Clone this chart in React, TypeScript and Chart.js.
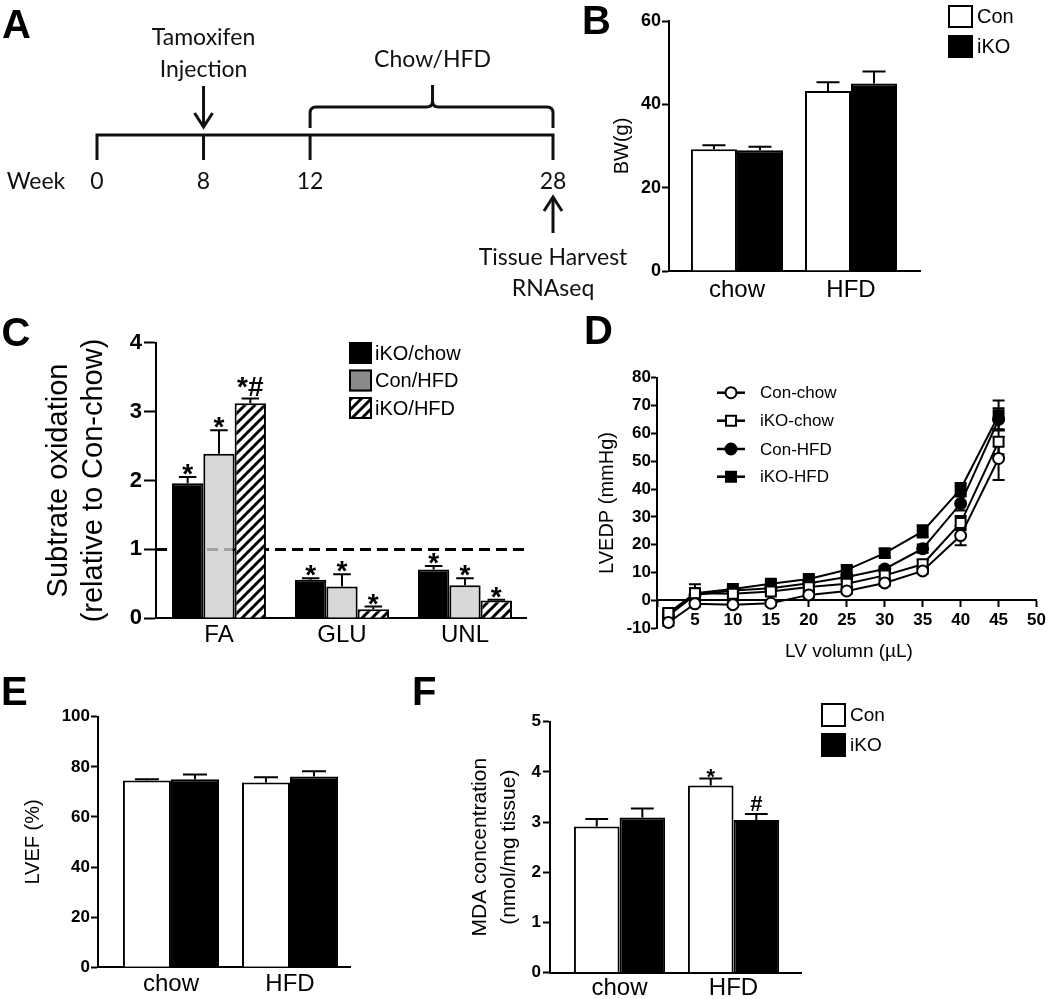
import React, { useEffect, useRef } from 'react';
import { Chart, registerables } from 'chart.js';

Chart.register(...registerables);

const SANS = '"Liberation Sans", Arial, Helvetica, sans-serif';
const HUMAN = 'Lato, "Open Sans", sans-serif';

// ---------------- Panel A (schematic timeline) ----------------
const timelineWeeks = ['0', '8', '12', '28'];
const timelineSlots = [0, 1, 2, 4.28]; // schematic spacing, not to scale

// ---------------- Panel B : body weight ----------------
const bwGroups = ['chow', 'HFD'];
const bwCon = [29.2, 43.2];
const bwConErr = [1.0, 2.1];
const bwIKO = [29.0, 45.0];
const bwIKOErr = [0.8, 2.9];

// ---------------- Panel C : substrate oxidation ----------------
const oxGroups = ['FA', 'GLU', 'UNL'];
const oxIKOChow = [1.96, 0.56, 0.71];
const oxIKOChowErr = [0.09, 0.02, 0.05];
const oxIKOChowSig = ['*', '*', '*'];
const oxConHFD = [2.39, 0.46, 0.48];
const oxConHFDErr = [0.34, 0.18, 0.1];
const oxConHFDSig = ['*', '*', '*'];
const oxIKOHFD = [3.12, 0.13, 0.26];
const oxIKOHFDErr = [0.07, 0.04, 0.01];
const oxIKOHFDSig = ['*#', '*', '*'];

// ---------------- Panel D : LVEDP vs LV volume ----------------
const lvVolume = [1.5, 5, 10, 15, 20, 25, 30, 35, 40, 45];
const pConChow = [-7.9, -1.2, -1.5, -1.0, 2.0, 3.4, 6.3, 10.6, 23.3, 51.0];
const pConChowErr = [1.2, 1.0, 0.8, 0.8, 1.0, 1.0, 1.0, 1.0, 3.5, 7.7];
const pIKOChow = [-4.5, 2.6, 2.4, 3.2, 4.8, 6.0, 9.0, 13.0, 27.8, 57.0];
const pIKOChowErr = [1.5, 3.2, 1.0, 1.0, 1.0, 1.0, 1.2, 1.5, 2.5, 4.5];
const pConHFD = [-5.5, 2.0, 3.6, 4.4, 6.2, 8.4, 11.3, 18.6, 34.8, 65.0];
const pConHFDErr = [1.0, 1.0, 1.0, 1.0, 1.0, 1.0, 1.0, 1.5, 2.5, 4.0];
const pIKOHFD = [-5.1, 2.6, 4.1, 6.0, 7.7, 11.0, 17.0, 24.8, 40.0, 66.5];
const pIKOHFDErr = [1.0, 1.0, 1.0, 1.2, 1.2, 1.5, 1.5, 2.2, 2.2, 5.3];

// ---------------- Panel E : LVEF ----------------
const efGroups = ['chow', 'HFD'];
const efCon = [74.5, 73.7];
const efConErr = [0.5, 2.1];
const efIKO = [75.0, 76.1];
const efIKOErr = [1.9, 2.1];

// ---------------- Panel F : MDA ----------------
const mdaGroups = ['chow', 'HFD'];
const mdaCon = [2.91, 3.73];
const mdaConErr = [0.15, 0.14];
const mdaConSig = ['', '*'];
const mdaIKO = [3.09, 3.04];
const mdaIKOErr = [0.18, 0.12];
const mdaIKOSig = ['', '#'];

type Rect = [number, number, number, number];
type Area = [number, number, number, number];

function hatchPattern(): CanvasPattern | string {
  const s = 10;
  const c = document.createElement('canvas');
  c.width = s;
  c.height = s;
  const g = c.getContext('2d');
  if (!g) return '#fff';
  g.fillStyle = '#fff';
  g.fillRect(0, 0, s, s);
  g.strokeStyle = '#000';
  g.lineWidth = 3;
  g.beginPath();
  g.moveTo(0, s);
  g.lineTo(s, 0);
  g.moveTo(-s / 2, s / 2);
  g.lineTo(s / 2, -s / 2);
  g.moveTo(s / 2, s * 1.5);
  g.lineTo(s * 1.5, s / 2);
  g.stroke();
  return g.createPattern(c, 'repeat') || '#fff';
}

interface BarSeries {
  label: string;
  values: number[];
  errors: number[];
  fill: any;
  sig?: string[];
}

interface BarSpec {
  rect: Rect;
  area: Area;
  yW: number;
  xH: number;
  groups: string[];
  xMin: number;
  xMax: number;
  catPct: number;
  series: BarSeries[];
  yMin: number;
  yMax: number;
  yStep: number;
  tickFont: number;
  tickLen: number;
  tickPad: number;
  xFont: number;
  xPad: number;
  title: string | string[];
  titleFont: number;
  titleLH: number;
  titlePad: number;
  sigFont: number;
  sigLift: number;
  capRatio: number;
  extra?: any[];
}

function barErrorPlugin(s: BarSpec) {
  return {
    id: 'barErr',
    afterDatasetsDraw(chart: any) {
      const ctx = chart.ctx;
      const ys = chart.scales.y;
      ctx.save();
      ctx.strokeStyle = '#000';
      ctx.lineWidth = 2;
      s.series.forEach((se, di) => {
        const meta = chart.getDatasetMeta(di);
        meta.data.forEach((el: any, i: number) => {
          const top = ys.getPixelForValue(se.values[i] + se.errors[i]);
          const cx = el.x;
          const half = el.width * s.capRatio;
          ctx.beginPath();
          ctx.moveTo(cx, el.y);
          ctx.lineTo(cx, top);
          ctx.moveTo(cx - half, top);
          ctx.lineTo(cx + half, top);
          ctx.stroke();
          const t = se.sig ? se.sig[i] : '';
          if (t) {
            ctx.fillStyle = '#000';
            ctx.font = `bold ${s.sigFont}px ${SANS}`;
            ctx.textAlign = 'center';
            ctx.textBaseline = 'alphabetic';
            const base = t === '*' ? top - s.sigLift + 0.43 * s.sigFont : top - 3;
            ctx.fillText(t, cx, base);
          }
        });
      });
      ctx.restore();
    },
  };
}

function boxLegendPlugin(
  rect: Rect,
  items: { label: string; fill: any; x: number; y: number; w: number; h: number; tx: number }[],
  fontSize: number
) {
  return {
    id: 'boxLegend',
    afterDraw(chart: any) {
      const ctx = chart.ctx;
      ctx.save();
      ctx.translate(-rect[0], -rect[1]);
      items.forEach((it) => {
        ctx.fillStyle = it.fill;
        ctx.fillRect(it.x, it.y, it.w, it.h);
        ctx.strokeStyle = '#000';
        ctx.lineWidth = 2;
        ctx.strokeRect(it.x + 1, it.y + 1, it.w - 2, it.h - 2);
        ctx.fillStyle = '#000';
        ctx.font = `${fontSize}px ${SANS}`;
        ctx.textAlign = 'left';
        ctx.textBaseline = 'middle';
        ctx.fillText(it.label, it.tx, it.y + it.h / 2 + 1);
      });
      ctx.restore();
    },
  };
}

function buildBar(canvas: HTMLCanvasElement, s: BarSpec) {
  const padding = {
    left: s.area[0] - s.rect[0] - s.yW,
    top: s.area[1] - s.rect[1],
    right: s.rect[0] + s.rect[2] - s.area[2],
    bottom: s.rect[1] + s.rect[3] - s.area[3] - s.xH,
  };
  return new Chart(canvas, {
    type: 'bar',
    data: {
      datasets: s.series.map((se) => ({
        label: se.label,
        data: se.values.map((v, i) => ({ x: i, y: v })),
        backgroundColor: se.fill,
        borderColor: '#000',
        borderWidth: 2,
        categoryPercentage: s.catPct,
        barPercentage: 1,
      })),
    },
    options: {
      responsive: false,
      animation: false,
      events: [],
      layout: { padding },
      plugins: { legend: { display: false }, tooltip: { enabled: false } },
      scales: {
        x: {
          type: 'linear',
          min: s.xMin,
          max: s.xMax,
          offset: false,
          afterBuildTicks: (sc: any) => {
            sc.ticks = s.groups.map((_, i) => ({ value: i }));
          },
          afterFit: (sc: any) => {
            sc.height = s.xH;
          },
          ticks: {
            autoSkip: false,
            maxRotation: 0,
            color: '#000',
            padding: s.xPad,
            font: { family: SANS, size: s.xFont, lineHeight: 1.2 },
            callback: (v: any) => s.groups[Math.round(Number(v))] ?? '',
          },
          grid: { display: false, drawTicks: false, offset: false },
          border: { display: true, color: '#000', width: 2 },
        },
        y: {
          type: 'linear',
          min: s.yMin,
          max: s.yMax,
          afterFit: (sc: any) => {
            sc.width = s.yW;
          },
          ticks: {
            stepSize: s.yStep,
            color: '#000',
            padding: s.tickPad,
            font: { family: SANS, size: s.tickFont, weight: 'bold', lineHeight: 1.2 },
          },
          grid: {
            display: true,
            drawOnChartArea: false,
            drawTicks: true,
            tickLength: s.tickLen,
            tickWidth: 2,
            tickColor: '#000',
            color: '#000',
          },
          border: { display: true, color: '#000', width: 2 },
          title: {
            display: true,
            text: s.title,
            color: '#000',
            font: { family: SANS, size: s.titleFont, lineHeight: s.titleLH },
            padding: { top: s.titlePad, bottom: 0 },
          },
        },
      },
    } as any,
    plugins: [barErrorPlugin(s), ...(s.extra || [])],
  });
}

// ---------------- builders ----------------
const rectA: Rect = [0, 0, 660, 320];
const rectB: Rect = [590, 0, 460, 320];
const rectC: Rect = [0, 320, 580, 360];
const rectD: Rect = [580, 320, 470, 360];
const rectE: Rect = [0, 680, 420, 319];
const rectF: Rect = [420, 680, 630, 319];

function buildA(canvas: HTMLCanvasElement) {
  const rect = rectA;
  const timelinePlugin = {
    id: 'timeline',
    afterDraw(chart: any) {
      const ctx = chart.ctx;
      const xs = chart.scales.x;
      const px = timelineSlots.map((s) => xs.getPixelForValue(s));
      ctx.save();
      ctx.translate(-rect[0], -rect[1]);
      ctx.strokeStyle = '#111';
      ctx.fillStyle = '#111';
      ctx.lineWidth = 3;
      ctx.lineJoin = 'miter';
      ctx.lineCap = 'butt';
      const yL = 135;
      ctx.beginPath();
      ctx.moveTo(px[0], 160);
      ctx.lineTo(px[0], yL);
      ctx.lineTo(px[3], yL);
      ctx.lineTo(px[3], 160);
      ctx.stroke();
      [px[1], px[2]].forEach((p) => {
        ctx.beginPath();
        ctx.moveTo(p, yL);
        ctx.lineTo(p, 160);
        ctx.stroke();
      });
      // down arrow (tamoxifen)
      ctx.beginPath();
      ctx.moveTo(px[1], 86);
      ctx.lineTo(px[1], 127);
      ctx.stroke();
      ctx.beginPath();
      ctx.moveTo(px[1] - 9, 113);
      ctx.lineTo(px[1], 127);
      ctx.lineTo(px[1] + 9, 113);
      ctx.stroke();
      // brace
      const L = px[2];
      const R = px[3];
      const M = (L + R) / 2 + 1;
      const yb = 107;
      ctx.beginPath();
      ctx.moveTo(L, 128);
      ctx.lineTo(L, yb + 6);
      ctx.quadraticCurveTo(L, yb, L + 6, yb);
      ctx.lineTo(M - 6, yb);
      ctx.quadraticCurveTo(M, yb, M, yb - 6);
      ctx.lineTo(M, 85);
      ctx.moveTo(M, yb - 6);
      ctx.quadraticCurveTo(M, yb, M + 6, yb);
      ctx.lineTo(R - 6, yb);
      ctx.quadraticCurveTo(R, yb, R, yb + 6);
      ctx.lineTo(R, 128);
      ctx.stroke();
      // up arrow (harvest)
      ctx.beginPath();
      ctx.moveTo(px[3], 233);
      ctx.lineTo(px[3], 198);
      ctx.stroke();
      ctx.beginPath();
      ctx.moveTo(px[3] - 9, 211);
      ctx.lineTo(px[3], 197);
      ctx.lineTo(px[3] + 9, 211);
      ctx.stroke();
      // texts
      ctx.font = `23px ${HUMAN}`;
      ctx.textAlign = 'center';
      ctx.textBaseline = 'alphabetic';
      ctx.fillText('Tamoxifen', px[1], 45);
      ctx.fillText('Injection', px[1], 77);
      ctx.fillText('Chow/HFD', M, 67);
      ctx.fillText('Week', 36, 189);
      timelineWeeks.forEach((w, i) => ctx.fillText(w, px[i], 189));
      ctx.fillText('Tissue Harvest', px[3], 265);
      ctx.fillText('RNAseq', px[3], 296);
      ctx.restore();
    },
  };
  return new Chart(canvas, {
    type: 'scatter',
    data: { datasets: [] },
    options: {
      responsive: false,
      animation: false,
      events: [],
      layout: { padding: { left: 97, right: rect[2] - 553, top: 0, bottom: 0 } },
      plugins: { legend: { display: false }, tooltip: { enabled: false } },
      scales: {
        x: { type: 'linear', min: 0, max: timelineSlots[3], display: false },
        y: { type: 'linear', min: 0, max: 1, display: false },
      },
    } as any,
    plugins: [timelinePlugin],
  });
}

function buildB(canvas: HTMLCanvasElement) {
  const series: BarSeries[] = [
    { label: 'Con', values: bwCon, errors: bwConErr, fill: '#fff' },
    { label: 'iKO', values: bwIKO, errors: bwIKOErr, fill: '#000' },
  ];
  return buildBar(canvas, {
    rect: rectB,
    area: [669, 21, 920, 271],
    yW: 60,
    xH: 49,
    groups: bwGroups,
    xMin: -0.596,
    xMax: 1.605,
    catPct: 0.807,
    series,
    yMin: 0,
    yMax: 60,
    yStep: 20,
    tickFont: 18,
    tickLen: 7,
    tickPad: 1,
    xFont: 24,
    xPad: 5,
    title: 'BW(g)',
    titleFont: 20,
    titleLH: 1.2,
    titlePad: 1,
    sigFont: 24,
    sigLift: 4,
    capRatio: 0.25,
    extra: [
      boxLegendPlugin(
        rectB,
        [
          { label: series[0].label, fill: series[0].fill, x: 948, y: 5, w: 25, h: 23, tx: 977 },
          { label: series[1].label, fill: series[1].fill, x: 948, y: 35, w: 25, h: 23, tx: 977 },
        ],
        20
      ),
    ],
  });
}

function buildC(canvas: HTMLCanvasElement) {
  const hatch = hatchPattern();
  const series: BarSeries[] = [
    { label: 'iKO/chow', values: oxIKOChow, errors: oxIKOChowErr, fill: '#000', sig: oxIKOChowSig },
    { label: 'Con/HFD', values: oxConHFD, errors: oxConHFDErr, fill: 'rgba(205,205,205,0.78)', sig: oxConHFDSig },
    { label: 'iKO/HFD', values: oxIKOHFD, errors: oxIKOHFDErr, fill: hatch, sig: oxIKOHFDSig },
  ];
  const legendFills = ['#000', '#8a8a8a', hatch];
  const refLine = {
    id: 'refLine',
    beforeDatasetsDraw(chart: any) {
      const ctx = chart.ctx;
      const y = chart.scales.y.getPixelForValue(1);
      const a = chart.chartArea;
      ctx.save();
      ctx.strokeStyle = '#000';
      ctx.lineWidth = 3;
      ctx.setLineDash([11, 6]);
      ctx.beginPath();
      ctx.moveTo(a.left, y);
      ctx.lineTo(a.right + 2, y);
      ctx.stroke();
      ctx.restore();
    },
  };
  return buildBar(canvas, {
    rect: rectC,
    area: [156, 342.7, 526, 618.3],
    yW: 126,
    xH: 61.7,
    groups: oxGroups,
    xMin: -0.512,
    xMax: 2.496,
    catPct: 0.764,
    series,
    yMin: 0,
    yMax: 4,
    yStep: 1,
    tickFont: 22,
    tickLen: 12,
    tickPad: 2,
    xFont: 24,
    xPad: 3,
    title: ['Subtrate oxidation', '(relative to Con-chow)'],
    titleFont: 29,
    titleLH: 1.2,
    titlePad: 12,
    sigFont: 28,
    sigLift: 6,
    capRatio: 0.28,
    extra: [
      refLine,
      boxLegendPlugin(
        rectC,
        series.map((se, i) => ({
          label: se.label,
          fill: legendFills[i],
          x: 349,
          y: 342 + i * 27.5,
          w: 23,
          h: 22,
          tx: 375,
        })),
        20
      ),
    ],
  });
}

function drawMarker(ctx: CanvasRenderingContext2D, style: string, fill: string, x: number, y: number) {
  ctx.save();
  ctx.fillStyle = fill;
  ctx.strokeStyle = '#000';
  ctx.lineWidth = 2;
  ctx.beginPath();
  if (style === 'circle') {
    ctx.arc(x, y, 5.5, 0, Math.PI * 2);
  } else {
    ctx.rect(x - 5, y - 5, 10, 10);
  }
  ctx.fill();
  ctx.stroke();
  ctx.restore();
}

function buildD(canvas: HTMLCanvasElement) {
  const rect = rectD;
  const area: Area = [657, 377.7, 1037, 628.3];
  const yW = 70;
  const series = [
    { label: 'Con-chow', values: pConChow, errors: pConChowErr, style: 'circle', fill: '#fff' },
    { label: 'iKO-chow', values: pIKOChow, errors: pIKOChowErr, style: 'rect', fill: '#fff' },
    { label: 'Con-HFD', values: pConHFD, errors: pConHFDErr, style: 'circle', fill: '#000' },
    { label: 'iKO-HFD', values: pIKOHFD, errors: pIKOHFDErr, style: 'rect', fill: '#000' },
  ];
  const padding = {
    left: area[0] - rect[0] - yW,
    top: area[1] - rect[1],
    right: rect[0] + rect[2] - area[2],
    bottom: rect[1] + rect[3] - area[3],
  };
  const errPlugin = {
    id: 'dErr',
    beforeDatasetsDraw(chart: any) {
      const ctx = chart.ctx;
      const ys = chart.scales.y;
      ctx.save();
      ctx.strokeStyle = '#000';
      ctx.lineWidth = 2;
      series.forEach((se, di) => {
        const meta = chart.getDatasetMeta(di);
        meta.data.forEach((el: any, i: number) => {
          const t = ys.getPixelForValue(se.values[i] + se.errors[i]);
          const b = ys.getPixelForValue(se.values[i] - se.errors[i]);
          ctx.beginPath();
          ctx.moveTo(el.x, t);
          ctx.lineTo(el.x, b);
          ctx.moveTo(el.x - 6, t);
          ctx.lineTo(el.x + 6, t);
          ctx.moveTo(el.x - 6, b);
          ctx.lineTo(el.x + 6, b);
          ctx.stroke();
        });
      });
      ctx.restore();
    },
  };
  const legendPlugin = {
    id: 'dLegend',
    afterDraw(chart: any) {
      const ctx = chart.ctx;
      ctx.save();
      ctx.translate(-rect[0], -rect[1]);
      const ys = [392.7, 420.7, 449, 476.7];
      series.forEach((se, i) => {
        const y = ys[i];
        ctx.strokeStyle = '#000';
        ctx.lineWidth = 2.5;
        ctx.beginPath();
        ctx.moveTo(717, y);
        ctx.lineTo(745, y);
        ctx.stroke();
        drawMarker(ctx, se.style, se.fill, 731, y);
        ctx.fillStyle = '#000';
        ctx.font = `17px ${SANS}`;
        ctx.textAlign = 'left';
        ctx.textBaseline = 'middle';
        ctx.fillText(se.label, 760, y + 1);
      });
      ctx.font = `19px ${SANS}`;
      ctx.textAlign = 'center';
      ctx.textBaseline = 'middle';
      ctx.fillText('LV volumn (\u00b5L)', 849, 652);
      ctx.restore();
    },
  };
  return new Chart(canvas, {
    type: 'line',
    data: {
      datasets: series.map((se) => ({
        label: se.label,
        data: lvVolume.map((x, i) => ({ x, y: se.values[i] })),
        borderColor: '#000',
        borderWidth: 2,
        backgroundColor: se.fill,
        pointStyle: se.style,
        pointRadius: se.style === 'circle' ? 5.5 : 7,
        pointBackgroundColor: se.fill,
        pointBorderColor: '#000',
        pointBorderWidth: 2,
        fill: false,
        tension: 0,
        clip: false,
      })),
    },
    options: {
      responsive: false,
      animation: false,
      events: [],
      layout: { padding },
      plugins: { legend: { display: false }, tooltip: { enabled: false } },
      scales: {
        x: {
          type: 'linear',
          min: 0,
          max: 50,
          position: { y: 0 },
          offset: false,
          ticks: {
            stepSize: 5,
            autoSkip: false,
            maxRotation: 0,
            color: '#000',
            padding: 4,
            font: { family: SANS, size: 17, weight: 'bold', lineHeight: 1.2 },
            callback: (v: any) => (Number(v) === 0 ? '' : String(v)),
          },
          grid: {
            display: true,
            drawOnChartArea: false,
            drawTicks: true,
            tickLength: 6,
            tickWidth: 2,
            tickColor: '#000',
            color: '#000',
          },
          border: { display: true, color: '#000', width: 2 },
        },
        y: {
          type: 'linear',
          min: -10,
          max: 80,
          afterFit: (sc: any) => {
            sc.width = yW;
          },
          ticks: {
            stepSize: 10,
            color: '#000',
            padding: 0,
            font: { family: SANS, size: 17, weight: 'bold', lineHeight: 1.2 },
          },
          grid: {
            display: true,
            drawOnChartArea: false,
            drawTicks: true,
            tickLength: 6,
            tickWidth: 2,
            tickColor: '#000',
            color: '#000',
          },
          border: { display: true, color: '#000', width: 2 },
          title: {
            display: true,
            text: 'LVEDP (mmHg)',
            color: '#000',
            font: { family: SANS, size: 20, lineHeight: 1.2 },
            padding: { top: 8, bottom: 0 },
          },
        },
      },
    } as any,
    plugins: [errPlugin, legendPlugin],
  });
}

function buildE(canvas: HTMLCanvasElement) {
  const series: BarSeries[] = [
    { label: 'Con', values: efCon, errors: efConErr, fill: '#fff' },
    { label: 'iKO', values: efIKO, errors: efIKOErr, fill: '#000' },
  ];
  return buildBar(canvas, {
    rect: rectE,
    area: [98, 716.7, 350, 967.3],
    yW: 83,
    xH: 31.7,
    groups: efGroups,
    xMin: -0.613,
    xMax: 1.504,
    catPct: 0.807,
    series,
    yMin: 0,
    yMax: 100,
    yStep: 20,
    tickFont: 17,
    tickLen: 7,
    tickPad: 1,
    xFont: 24,
    xPad: 3,
    title: 'LVEF (%)',
    titleFont: 20,
    titleLH: 1.2,
    titlePad: 6,
    sigFont: 22,
    sigLift: 4,
    capRatio: 0.25,
  });
}

function buildF(canvas: HTMLCanvasElement) {
  const series: BarSeries[] = [
    { label: 'Con', values: mdaCon, errors: mdaConErr, fill: '#fff', sig: mdaConSig },
    { label: 'iKO', values: mdaIKO, errors: mdaIKOErr, fill: '#000', sig: mdaIKOSig },
  ];
  return buildBar(canvas, {
    rect: rectF,
    area: [550, 721.7, 801, 972.7],
    yW: 90,
    xH: 26.3,
    groups: mdaGroups,
    xMin: -0.61,
    xMax: 1.592,
    catPct: 0.8,
    series,
    yMin: 0,
    yMax: 5,
    yStep: 1,
    tickFont: 17,
    tickLen: 7,
    tickPad: 2,
    xFont: 24,
    xPad: 1,
    title: ['MDA concentration', '(nmol/mg tissue)'],
    titleFont: 21,
    titleLH: 1.38,
    titlePad: 5.5,
    sigFont: 22,
    sigLift: 4,
    capRatio: 0.25,
    extra: [
      boxLegendPlugin(
        rectF,
        [
          { label: series[0].label, fill: series[0].fill, x: 821, y: 703, w: 25, h: 24, tx: 850 },
          { label: series[1].label, fill: series[1].fill, x: 821, y: 733, w: 25, h: 24, tx: 850 },
        ],
        19
      ),
    ],
  });
}

function ChartBox({ rect, build }: { rect: Rect; build: (c: HTMLCanvasElement) => Chart }) {
  const ref = useRef<HTMLCanvasElement | null>(null);
  useEffect(() => {
    if (!ref.current) return;
    const chart = build(ref.current);
    return () => chart.destroy();
  }, []);
  return (
    <canvas
      ref={ref}
      width={rect[2]}
      height={rect[3]}
      style={{ position: 'absolute', left: rect[0], top: rect[1], width: rect[2], height: rect[3] }}
    />
  );
}

const letters: [string, number, number][] = [
  ['A', 2, 4],
  ['B', 582, 0],
  ['C', 1.5, 312],
  ['D', 584, 310],
  ['E', 1, 671],
  ['F', 412, 671],
];

export default function App() {
  return (
    <div
      style={{
        position: 'absolute',
        left: 0,
        top: 0,
        width: 1050,
        height: 999,
        background: '#fff',
        overflow: 'hidden',
      }}
    >
      <ChartBox rect={rectA} build={buildA} />
      <ChartBox rect={rectB} build={buildB} />
      <ChartBox rect={rectC} build={buildC} />
      <ChartBox rect={rectD} build={buildD} />
      <ChartBox rect={rectE} build={buildE} />
      <ChartBox rect={rectF} build={buildF} />
      {letters.map(([t, x, y]) => (
        <div
          key={t}
          style={{
            position: 'absolute',
            left: x,
            top: y,
            font: `bold 40px/40px ${SANS}`,
            color: '#000',
          }}
        >
          {t}
        </div>
      ))}
    </div>
  );
}
